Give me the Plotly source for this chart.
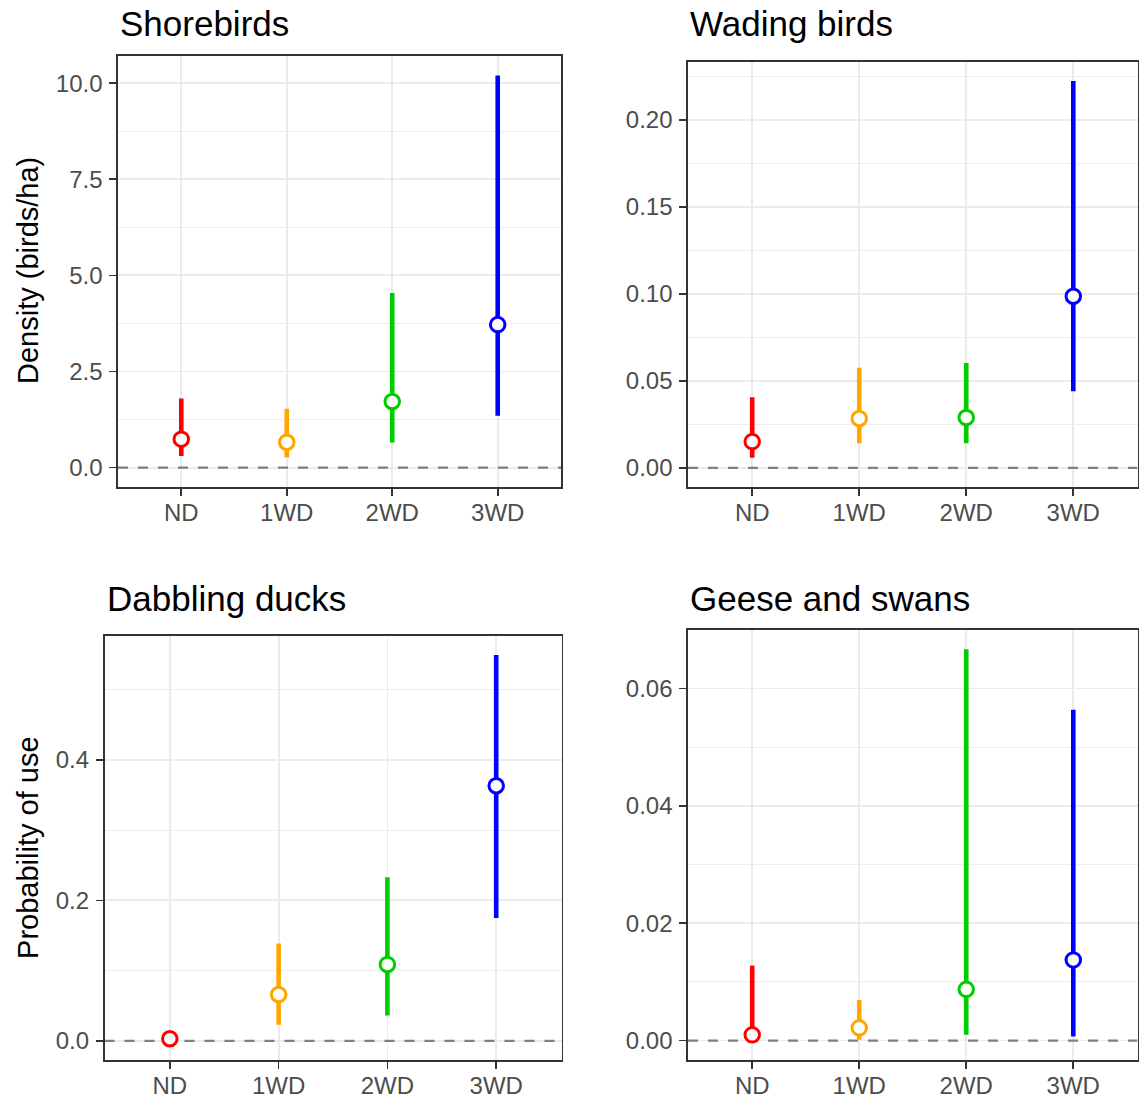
import plotly.graph_objects as go

W, H = 1142, 1099

categories = ["ND", "1WD", "2WD", "3WD"]
colors = ["#FF0000", "#FFA500", "#00CD00", "#0000FF"]

panel_titles = ["Shorebirds", "Wading birds", "Dabbling ducks", "Geese and swans"]

shore_est = [0.74, 0.66, 1.72, 3.72]
shore_lo = [0.30, 0.26, 0.65, 1.35]
shore_hi = [1.80, 1.53, 4.54, 10.20]

wading_est = [0.0151, 0.0284, 0.0290, 0.0987]
wading_lo = [0.0058, 0.0141, 0.0142, 0.0440]
wading_hi = [0.0406, 0.0576, 0.0603, 0.2224]

dabbling_est = [0.0030, 0.0660, 0.1088, 0.3633]
dabbling_lo = [0.0006, 0.0230, 0.0362, 0.1750]
dabbling_hi = [0.0080, 0.1386, 0.2329, 0.5495]

geese_est = [0.00097, 0.00217, 0.00873, 0.01375]
geese_lo = [0.00010, 0.00015, 0.00097, 0.00068]
geese_hi = [0.01278, 0.00690, 0.06670, 0.05640]

y_ticks = [
    [0, 2.5, 5.0, 7.5, 10.0],
    [0, 0.05, 0.10, 0.15, 0.20],
    [0, 0.2, 0.4],
    [0, 0.02, 0.04, 0.06],
]
y_ticklabels = [
    ["0.0", "2.5", "5.0", "7.5", "10.0"],
    ["0.00", "0.05", "0.10", "0.15", "0.20"],
    ["0.0", "0.2", "0.4"],
    ["0.00", "0.02", "0.04", "0.06"],
]
y_minor = [
    [1.25, 3.75, 6.25, 8.75],
    [0.025, 0.075, 0.125, 0.175, 0.225],
    [0.1, 0.3, 0.5],
    [0.01, 0.03, 0.05],
]
y_titles = ["Density (birds/ha)", None, "Probability of use", None]
reference_line = 0

panels = [
    (shore_est, shore_lo, shore_hi),
    (wading_est, wading_lo, wading_hi),
    (dabbling_est, dabbling_lo, dabbling_hi),
    (geese_est, geese_lo, geese_hi),
]

# panel boxes in pixels: left, right, top, bottom
boxes = [
    (118, 561, 56, 489),
    (688, 1137.5, 62, 489),
    (104.5, 561.5, 638, 1064),
    (688, 1137.5, 632, 1064),
]
title_centers = [24, 24, 601, 601]
ytitle_centers = [272, None, 851, None]

FONT = "Liberation Sans, Arial, sans-serif"
TICK_FONT = dict(family=FONT, size=24, color="#4D4D4D")
BORDER = "#333333"

fig = go.Figure()
layout = dict(
    width=W, height=H,
    margin=dict(l=0, r=0, t=0, b=0),
    paper_bgcolor="white", plot_bgcolor="white",
    showlegend=False,
    font=dict(family=FONT),
    annotations=[],
)

xpos = list(range(len(categories)))
xrange_ = [-0.6, len(categories) - 1 + 0.6]

for i, (est, lo, hi) in enumerate(panels):
    n = "" if i == 0 else str(i + 1)
    xa, ya = "x" + n, "y" + n
    l, r, t, b = boxes[i]
    # dashed reference line across the full panel
    fig.add_trace(go.Scatter(
        x=xrange_, y=[reference_line, reference_line], xaxis=xa, yaxis=ya,
        mode="lines", line=dict(color="#7F7F7F", width=2.3, dash="10px,10px"),
        hoverinfo="skip",
    ))
    for c, cat in enumerate(categories):
        fig.add_trace(go.Scatter(
            x=[xpos[c]], y=[est[c]],
            xaxis=xa, yaxis=ya,
            mode="markers",
            marker=dict(symbol="circle", size=14.5, color="white",
                        line=dict(color=colors[c], width=3)),
            error_y=dict(type="data", symmetric=False,
                         array=[hi[c] - est[c]], arrayminus=[est[c] - lo[c]],
                         color=colors[c], thickness=4.6, width=0),
            hoverinfo="skip",
        ))
    ymin = min(reference_line, min(lo))
    ymax = max(hi)
    pad = 0.05 * (ymax - ymin)
    axis_common = dict(
        showline=True, mirror=True, linecolor=BORDER, linewidth=1.7,
        ticks="outside", ticklen=7, tickwidth=1.7, tickcolor=BORDER,
        tickfont=TICK_FONT, showgrid=True, gridcolor="#EBEBEB", gridwidth=1.8,
        zeroline=False, fixedrange=True,
    )
    layout["xaxis" + n] = dict(
        axis_common,
        domain=[l / W, r / W], anchor=ya,
        range=xrange_, tickmode="array", tickvals=xpos, ticktext=categories,
        ticklabelstandoff=-4,
    )
    layout["yaxis" + n] = dict(
        axis_common,
        domain=[1 - b / H, 1 - t / H], anchor=xa,
        range=[ymin - pad, ymax + pad],
        tickmode="array", tickvals=y_ticks[i], ticktext=y_ticklabels[i],
        minor=dict(tickmode="array", tickvals=y_minor[i], showgrid=True,
                   gridcolor="#EBEBEB", gridwidth=0.9, ticks=""),
        ticklabelstandoff=2,
    )
    layout["annotations"].append(dict(
        text=panel_titles[i], xref="paper", yref="paper",
        x=l / W, y=1 - title_centers[i] / H, xanchor="left", yanchor="middle",
        showarrow=False, font=dict(family=FONT, size=35, color="black"),
    ))
    if y_titles[i]:
        layout["annotations"].append(dict(
            text=y_titles[i], xref="paper", yref="paper",
            x=28 / W, y=1 - ytitle_centers[i] / H, xanchor="center", yanchor="middle",
            textangle=-90, showarrow=False,
            font=dict(family=FONT, size=29, color="black"),
        ))

fig.update_layout(**layout)
fig.write_html(
    "out.html",
    config={"displayModeBar": False, "staticPlot": True},
    post_script="document.body.style.margin='0';document.body.style.overflow='hidden';",
)
